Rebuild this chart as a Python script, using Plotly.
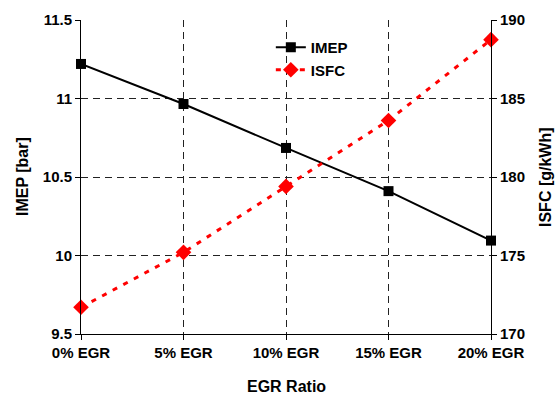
import plotly.graph_objects as go

categories = ["0% EGR", "5% EGR", "10% EGR", "15% EGR", "20% EGR"]
imep = [11.22, 10.965, 10.685, 10.41, 10.095]
isfc = [171.7, 175.2, 179.4, 183.6, 188.75]
imep_ticks = [9.5, 10, 10.5, 11, 11.5]
imep_ticktext = ["9.5", "10", "10.5", "11", "11.5"]
isfc_ticks = [170, 175, 180, 185, 190]

FONT = "Liberation Sans, Arial, sans-serif"
xs = list(range(len(categories)))

fig = go.Figure()
fig.add_trace(go.Scatter(
    x=xs, y=imep, name="IMEP", mode="lines+markers",
    line=dict(color="black", width=2),
    marker=dict(symbol="square", size=10, color="black"),
    cliponaxis=False,
))
fig.add_trace(go.Scatter(
    x=xs, y=isfc, name="ISFC", mode="lines+markers",
    line=dict(color="#ff0000", width=3, dash="5px,7px"),
    marker=dict(symbol="diamond", size=12, color="#ff0000"),
    yaxis="y2", cliponaxis=False,
))

tickfont = dict(family=FONT, size=15, color="black", weight="bold")
titlefont = dict(family=FONT, size=16, color="black", weight="bold")
gridc = "#222222"

fig.update_layout(
    width=557, height=394,
    margin=dict(l=81, r=66, t=20, b=60),
    paper_bgcolor="white", plot_bgcolor="white",
    showlegend=True,
    legend=dict(x=0.463, y=0.965, xanchor="left", yanchor="top",
                font=dict(family=FONT, size=15, color="black", weight="bold"),
                bgcolor="rgba(255,255,255,0)", tracegroupgap=0),
    xaxis=dict(
        range=[0, 4], tickvals=xs, ticktext=categories, automargin=False,
        tickfont=tickfont, ticks="outside", ticklen=5, tickcolor="black",
        showline=True, linecolor="black", linewidth=1,
        showgrid=True, gridcolor=gridc, griddash="7px,5px", gridwidth=1,
        zeroline=False,
    ),
    yaxis=dict(
        range=[9.5, 11.5], tickvals=imep_ticks, ticktext=imep_ticktext,
        automargin=False,
        tickfont=tickfont, ticks="outside", ticklen=5, tickcolor="black",
        showline=True, linecolor="black", linewidth=1,
        showgrid=True, gridcolor=gridc, griddash="7px,5px", gridwidth=1,
        zeroline=False,
    ),
    yaxis2=dict(
        range=[170, 190], tickvals=isfc_ticks,
        overlaying="y", side="right", automargin=False,
        tickfont=tickfont, ticks="outside", ticklen=5, tickcolor="black",
        showline=True, linecolor="black", linewidth=1,
        showgrid=False, zeroline=False,
    ),
    annotations=[
        dict(text="EGR Ratio", xref="paper", yref="paper", x=0.5, y=0,
             yshift=-52, showarrow=False, font=titlefont,
             xanchor="center", yanchor="middle"),
        dict(text="IMEP [bar]", xref="paper", yref="paper", x=0, y=0.5,
             xshift=-59, showarrow=False, font=titlefont, textangle=-90,
             xanchor="center", yanchor="middle"),
        dict(text="ISFC [g/kWh]", xref="paper", yref="paper", x=1, y=0.5,
             xshift=54, showarrow=False, font=titlefont, textangle=-90,
             xanchor="center", yanchor="middle"),
    ],
)

fig.write_html("out.html")
